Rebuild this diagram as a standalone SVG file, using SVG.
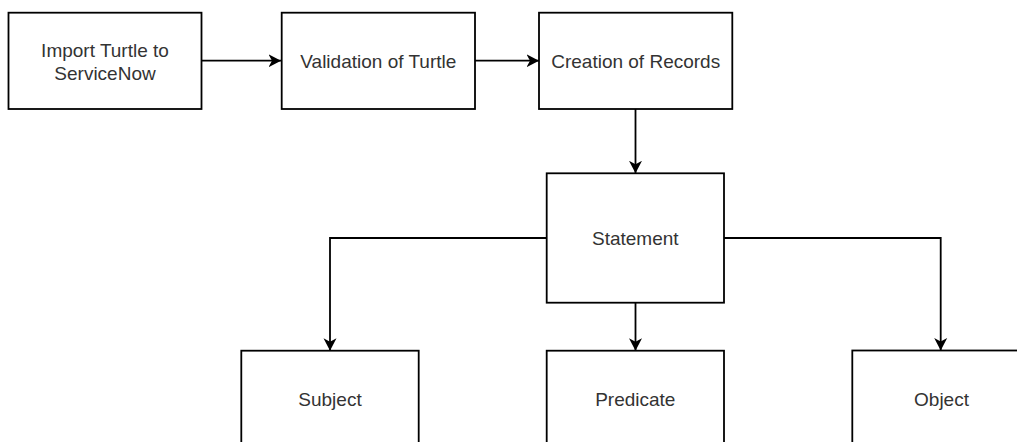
<svg xmlns="http://www.w3.org/2000/svg" width="1017" height="442" viewBox="0 0 1017 442">
<style>
.box{fill:#fff;stroke:#000;stroke-width:1.8}
.lbl{font-family:"Liberation Sans",Arial,sans-serif;font-size:19px;fill:#333;text-anchor:middle}
.edge{fill:none;stroke:#000;stroke-width:1.8}
</style>
<defs>
<marker id="arr" markerUnits="userSpaceOnUse" markerWidth="14" markerHeight="14" refX="12.5" refY="7" orient="auto" viewBox="0 0 14 14">
<path d="M12.5,7 L0,0.5 L3.5,7 L0,13.5 Z" fill="#000"/>
</marker>
</defs>
<rect width="1017" height="442" fill="#fff"/>
<g id="connectors">
<path class="edge" d="M201.5,60.7 L281,60.7" marker-end="url(#arr)"/>
<path class="edge" d="M475,60.7 L539,60.7" marker-end="url(#arr)"/>
<path class="edge" d="M635.5,109 L635.5,173.3" marker-end="url(#arr)"/>
<path class="edge" d="M546.7,238 L330,238 L330,350.7" marker-end="url(#arr)"/>
<path class="edge" d="M635.5,302.7 L635.5,350.7" marker-end="url(#arr)"/>
<path class="edge" d="M724,238 L940.7,238 L940.7,350.5" marker-end="url(#arr)"/>
</g>
<g id="import">
<rect class="box" x="8.5" y="12.7" width="193" height="96.3"/>
<text class="lbl" x="105" y="57">Import Turtle to</text>
<text class="lbl" x="105" y="80">ServiceNow</text>
</g>
<g id="validation">
<rect class="box" x="281.7" y="12.7" width="193.3" height="96.3"/>
<text class="lbl" x="378.3" y="67.5">Validation of Turtle</text>
</g>
<g id="creation">
<rect class="box" x="539" y="12.7" width="193.3" height="96.3"/>
<text class="lbl" x="635.7" y="67.5">Creation of Records</text>
</g>
<g id="statement">
<rect class="box" x="546.7" y="173.3" width="177.3" height="129.4"/>
<text class="lbl" x="635.3" y="245">Statement</text>
</g>
<g id="subject">
<rect class="box" x="241.3" y="350.7" width="177.4" height="130"/>
<text class="lbl" x="330" y="406">Subject</text>
</g>
<g id="predicate">
<rect class="box" x="546.7" y="350.7" width="177.3" height="130"/>
<text class="lbl" x="635.3" y="406">Predicate</text>
</g>
<g id="object">
<rect class="box" x="852.3" y="350.5" width="177.4" height="130"/>
<text class="lbl" x="941.5" y="406">Object</text>
</g>
</svg>
